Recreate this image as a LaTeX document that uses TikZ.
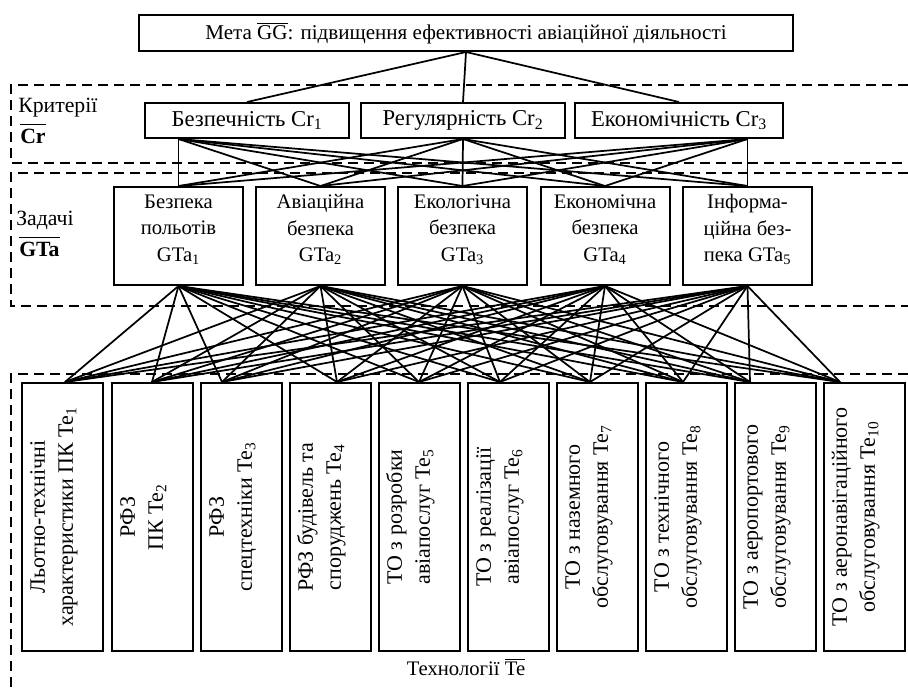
\documentclass[tikz,border=0pt]{standalone}
\usepackage{fontspec}
\usepackage{graphicx}
\setmainfont{Liberation Serif}
\usetikzlibrary{calc}

\newcommand{\ovl}[1]{$\overline{\mbox{#1}}$}
\newcommand{\lo}[1]{\textsubscript{#1}}
\newcommand{\vlab}[1]{\rotatebox{90}{\begin{tabular}{@{}c@{}}#1\end{tabular}}\kern13pt}

\tikzset{
  box/.style={draw, line width=1.5pt, align=center, inner sep=1pt},
  goalbox/.style={box, minimum width=490.5pt, minimum height=27pt, font=\fontsize{15.8}{18}\selectfont},
  critbox/.style={box, minimum width=153pt, minimum height=26.25pt, font=\fontsize{17}{20}\selectfont},
  taskbox/.style={box, minimum width=96.75pt, minimum height=73.5pt, text depth=12pt, font=\fontsize{15.5}{20}\selectfont},
  techbox/.style={box, minimum width=60.75pt, minimum height=201pt, font=\fontsize{16.5}{21}\selectfont},
  region/.style={line width=1.5pt, dash pattern=on 7.5pt off 4.5pt},
  link/.style={line width=1.3pt},
  lab/.style={font=\fontsize{16.3}{19}\selectfont, inner sep=0pt},
}

\begin{document}
\begin{tikzpicture}[x=0.75pt, y=-0.75pt]
  \useasboundingbox (0,0) rectangle (908,687);

  % dashed levels
  \draw[region] (908,85) -- (11,85) -- (11,163) -- (908,163);
  \draw[region] (908,173) -- (11,173) -- (11,306) -- (908,306);
  \draw[region] (908,374) -- (11,374) -- (11,687);

  \node[lab, anchor=west] (critlab) at (18,108) {Критерії};
  \node[lab, anchor=west] (critbar) at (20,134) {\ovl{\rule{0pt}{13pt}\bfseries Cr}};
  \node[lab, anchor=west] (tasklab) at (16,220) {Задачі};
  \node[lab, anchor=west] (taskbar) at (19,247) {\ovl{\rule{0pt}{13pt}\bfseries GTa}};
  \node[lab, font=\fontsize{15.5}{18}\selectfont] (techlab) at (466,667) {Технології \ovl{Te}};

  % goal
  \node[goalbox] (goal) at (466,33) {Мета \ovl{GG}: підвищення ефективності авіаційної діяльності};

  % criteria
  \node[critbox] (Cr1) at (247,120.5) {Безпечність Cr\lo{1}};
  \node[critbox] (Cr2) at (463,120.5) {Регулярність Cr\lo{2}};
  \node[critbox, minimum width=156pt] (Cr3) at (679,120.5) {Економічність Cr\lo{3}};

  % tasks
  \node[taskbox] (GTa1) at (178.5,236) {Безпека\\польотів\\GTa\lo{1}};
  \node[taskbox] (GTa2) at (320.5,236) {Авіаційна\\безпека\\GTa\lo{2}};
  \node[taskbox] (GTa3) at (462.5,236) {Екологічна\\безпека\\GTa\lo{3}};
  \node[taskbox] (GTa4) at (605,236) {Економічна\\безпека\\GTa\lo{4}};
  \node[taskbox] (GTa5) at (747.5,236) {Інформа-\\ційна без-\\пека GTa\lo{5}};

  % technologies
  \node[techbox] (Te1) at (62,517) {\vlab{Льотно-технічні\\характеристики ПК Te\lo{1}}};
  \node[techbox] (Te2) at (152,517) {\vlab{РФЗ\\ПК Te\lo{2}}};
  \node[techbox] (Te3) at (241,517) {\vlab{РФЗ\\спецтехніки Te\lo{3}}};
  \node[techbox] (Te4) at (330,517) {\vlab{РФЗ будівель та\\споруджень Te\lo{4}}};
  \node[techbox] (Te5) at (419,517) {\vlab{ТО з розробки\\авіапослуг Te\lo{5}}};
  \node[techbox] (Te6) at (508,517) {\vlab{ТО з реалізації\\авіапослуг Te\lo{6}}};
  \node[techbox] (Te7) at (597,517) {\vlab{ТО з наземного\\обслуговування Te\lo{7}}};
  \node[techbox] (Te8) at (686,517) {\vlab{ТО з технічного\\обслуговування Te\lo{8}}};
  \node[techbox] (Te9) at (775,517) {\vlab{ТО з аеропортового\\обслуговування Te\lo{9}}};
  \node[techbox] (Te10) at (864,517) {\vlab{ТО з аеронавігаційного\\обслуговування Te\lo{10}}};

  % goal -> criteria
  \foreach \i in {1,2,3}
    \draw[link] (goal.south) -- (Cr\i.north);

  % criteria -> tasks
  \coordinate (c1) at (GTa1.north |- Cr1.south);
  \coordinate (c2) at (Cr2.south);
  \coordinate (c3) at (GTa5.north |- Cr3.south);
  \foreach \i in {1,2,3}
    \foreach \j in {1,...,5}
      \draw[link] (c\i) -- (GTa\j.north);

  % tasks -> technologies
  \foreach \i in {1,...,5}
    \foreach \j/\d in {1/3,2/0,3/-19,4/7,5/0,6/-8,7/-7,8/-3,9/-25,10/-24}
      \draw[link] (GTa\i.south) -- ($(Te\j.north)+(\d,0)$);
\end{tikzpicture}
\end{document}
